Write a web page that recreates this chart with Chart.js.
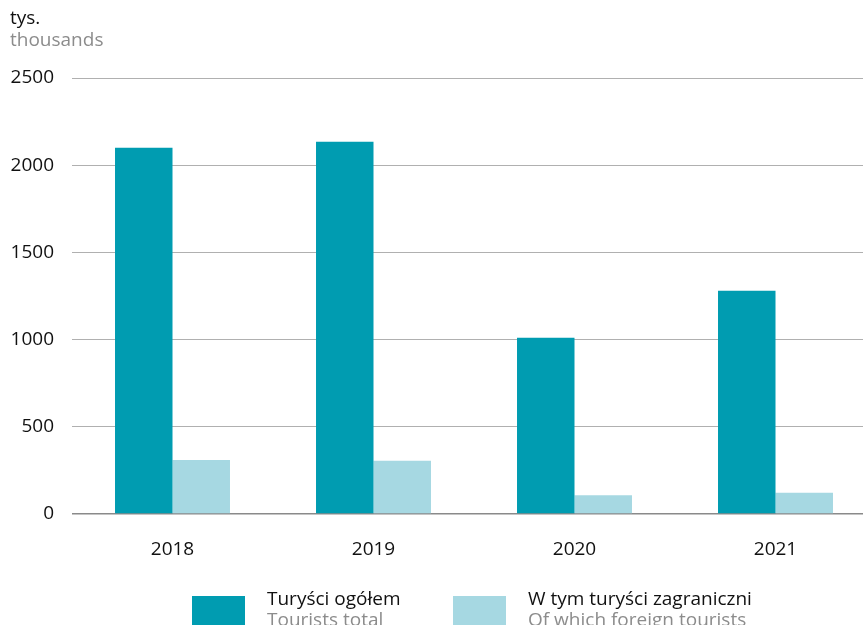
<!DOCTYPE html>
<html>
<head>
<meta charset="utf-8">
<script src="https://cdn.jsdelivr.net/npm/chart.js@4"></script>
<style>
  body { margin: 0; background: #fff; }
  #wrap { width: 863px; height: 625px; overflow: hidden; position: relative; }
</style>
</head>
<body>
<div id="wrap"><canvas id="touristChart" width="880" height="625"></canvas></div>
<script>
const years = ['2018', '2019', '2020', '2021'];
const touristsTotal = [2100, 2134, 1010, 1280];
const foreignTourists = [310, 305, 107, 122];
const yTicks = [0, 500, 1000, 1500, 2000, 2500];
const seriesNamesPl = ['Turyści ogółem', 'W tym turyści zagraniczni'];
const seriesNamesEn = ['Tourists total', 'Of which foreign tourists'];
const unitPl = 'tys.';
const unitEn = 'thousands';

const FONT = '"Open Sans", "Noto Sans", sans-serif';
const DARK = '#009cb1';
const LIGHT = '#a6d8e2';

// unit label top-left and two-line legend at the bottom
const extras = {
  id: 'extras',
  afterDraw(chart) {
    const c = chart.ctx;
    c.save();
    c.font = '19px ' + FONT;
    c.textBaseline = 'alphabetic';
    c.textAlign = 'left';
    c.fillStyle = '#111';
    c.fillText(unitPl, 10, 24);
    c.fillStyle = '#8c8c8c';
    c.fillText(unitEn, 10, 46);

    const boxX = [192, 453];
    chart.data.datasets.forEach((ds, i) => {
      c.fillStyle = ds.backgroundColor;
      c.fillRect(boxX[i], 596, 53, 30);
      c.fillStyle = '#111';
      c.fillText(seriesNamesPl[i], boxX[i] + 75, 605);
      c.fillStyle = '#8c8c8c';
      c.fillText(seriesNamesEn[i], boxX[i] + 75, 626);
    });
    c.restore();
  }
};

const ctx = document.getElementById('touristChart').getContext('2d');

new Chart(ctx, {
  type: 'bar',
  data: {
    labels: years,
    datasets: [
      {
        label: seriesNamesPl[0],
        data: touristsTotal,
        backgroundColor: DARK,
        categoryPercentage: 0.572,
        barPercentage: 1.0
      },
      {
        label: seriesNamesPl[1],
        data: foreignTourists,
        backgroundColor: LIGHT,
        categoryPercentage: 0.572,
        barPercentage: 1.0
      }
    ]
  },
  options: {
    responsive: false,
    animation: false,
    layout: { padding: { top: 78, right: 4, bottom: 61, left: 0 } },
    scales: {
      x: {
        grid: { display: false },
        border: { display: false },
        ticks: { color: '#111', font: { family: FONT, size: 19 }, padding: 16 },
        afterFit(scale) { scale.height = 50; }
      },
      y: {
        min: 0,
        max: 2500,
        afterBuildTicks(scale) { scale.ticks = yTicks.map(v => ({ value: v })); },
        grid: {
          drawTicks: false,
          color: c => c.tick && c.tick.value === 0 ? '#8a8a8a' : '#b0b0b0',
          lineWidth: c => c.tick && c.tick.value === 0 ? 1.5 : 1
        },
        border: { display: false },
        ticks: {
          color: '#111',
          font: { family: FONT, size: 19 },
          padding: 18,
          callback: v => String(v)
        },
        afterFit(scale) { scale.width = 72; }
      }
    },
    plugins: {
      legend: { display: false },
      tooltip: { enabled: false }
    }
  },
  plugins: [extras]
});
</script>
</body>
</html>
